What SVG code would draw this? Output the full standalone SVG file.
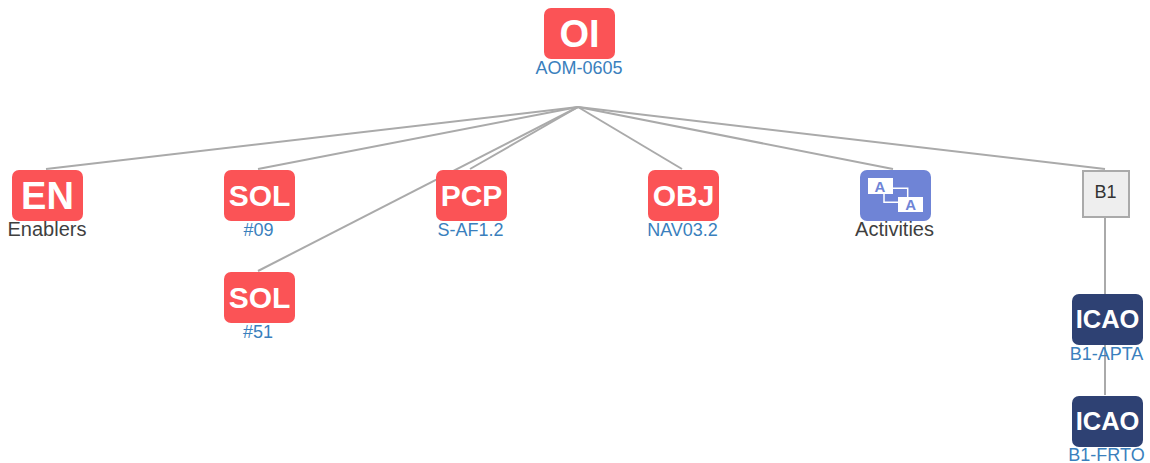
<svg xmlns="http://www.w3.org/2000/svg" width="1150" height="463" viewBox="0 0 1150 463">
<style>
text{font-family:"Liberation Sans",Arial,Helvetica,sans-serif;text-anchor:middle}
.red{fill:#fb5356}
.navy{fill:#2e4173}
.act{fill:#6f84d6}
.big{fill:#fff;font-weight:700;font-size:38px}
.mid{fill:#fff;font-weight:700;font-size:30px}
.ic{fill:#fff;font-weight:700;font-size:25.5px}
.ref{fill:#3a7fbd;font-size:18px}
.lab{fill:#3f3f3f;font-size:20px}
#connectors line{stroke:#aaa;stroke-width:2;fill:none}
</style>
<g id="connectors">
<line x1="578" y1="107" x2="46" y2="169"/>
<line x1="578" y1="107" x2="258" y2="169"/>
<line x1="578" y1="107" x2="470" y2="169"/>
<line x1="578" y1="107" x2="682" y2="169"/>
<line x1="578" y1="107" x2="893" y2="169"/>
<line x1="578" y1="107" x2="1105" y2="169"/>
<line x1="578" y1="107" x2="258" y2="271"/>
<line x1="1105" y1="217" x2="1105" y2="294"/>
<line x1="1105" y1="345" x2="1105" y2="395"/>
</g>
<g id="oi"><rect class="red" x="544" y="8" width="71" height="51" rx="7"/><text class="big" x="579.500" y="47">OI</text><text class="ref" x="579" y="74">AOM-0605</text></g>
<g id="en"><rect class="red" x="12" y="170" width="71" height="51" rx="7"/><text class="big" x="47.500" y="209">EN</text><text class="lab" x="47" y="236">Enablers</text></g>
<g id="sol09"><rect class="red" x="224" y="170" width="71" height="51" rx="7"/><text class="mid" x="259.500" y="206">SOL</text><text class="ref" x="258.500" y="236">#09</text></g>
<g id="pcp"><rect class="red" x="436" y="170" width="71" height="51" rx="7"/><text class="mid" x="471.500" y="206">PCP</text><text class="ref" x="470.500" y="236">S-AF1.2</text></g>
<g id="obj"><rect class="red" x="648" y="170" width="71" height="51" rx="7"/><text class="mid" x="683.500" y="206">OBJ</text><text class="ref" x="682.500" y="236">NAV03.2</text></g>
<g id="activities"><rect class="act" x="860" y="170" width="71" height="51" rx="7"/>
<path d="M893 188.300H907.700V197M884 194V202.300H898" fill="none" stroke="#fff" stroke-width="1.500"/>
<rect x="868" y="178" width="25" height="16" fill="#fff"/><rect x="898" y="197" width="25" height="15" fill="#fff"/>
<text x="880" y="191.700" font-size="15" font-weight="700" fill="#6f84d6">A</text><text x="910.700" y="210" font-size="15" font-weight="700" fill="#6f84d6">A</text>
<text class="lab" x="894.500" y="236">Activities</text></g>
<g id="b1"><rect x="1083" y="171" width="46" height="46" fill="#eee" stroke="#aaa" stroke-width="2"/><text x="1105.500" y="198" font-size="18" fill="#333">B1</text></g>
<g id="sol51"><rect class="red" x="224" y="272" width="71" height="51" rx="7"/><text class="mid" x="259.500" y="308">SOL</text><text class="ref" x="258" y="338">#51</text></g>
<g id="icao1"><rect class="navy" x="1072" y="294" width="71" height="51" rx="7"/><text class="ic" x="1107.500" y="328">ICAO</text><text class="ref" x="1106.500" y="360">B1-APTA</text></g>
<g id="icao2"><rect class="navy" x="1072" y="396" width="71" height="51" rx="7"/><text class="ic" x="1107.500" y="430">ICAO</text><text class="ref" x="1106.500" y="461">B1-FRTO</text></g>
</svg>
